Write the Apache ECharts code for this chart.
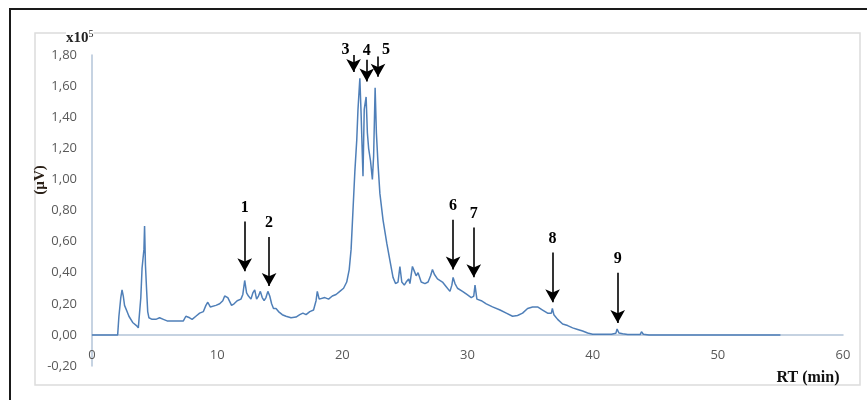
<!DOCTYPE html>
<html>
<head>
<meta charset="utf-8">
<script src="https://cdn.jsdelivr.net/npm/echarts@6/dist/echarts.min.js"></script>
<style>html,body{margin:0;padding:0;background:#fff}#c{width:867px;height:400px}</style>
</head>
<body>
<div id="c"></div>
<script>
// Retention time (min)
const rt = [0,2.05,2.15,2.3,2.4,2.5,2.6,2.7,2.8,2.95,3.1,3.25,3.4,3.55,3.7,3.8,3.9,4.0,4.07,4.15,4.2,4.27,4.35,4.45,4.55,4.8,5.1,5.4,5.7,6.0,6.5,7.0,7.3,7.5,7.65,7.8,8.0,8.3,8.6,8.9,9.1,9.25,9.45,9.6,9.9,10.2,10.45,10.6,10.85,11.0,11.15,11.35,11.6,11.9,12.05,12.2,12.35,12.5,12.7,12.85,13.0,13.15,13.3,13.45,13.6,13.75,13.9,14.05,14.2,14.35,14.5,14.7,14.9,15.2,15.5,15.9,16.3,16.6,16.85,17.1,17.4,17.7,17.9,18.0,18.15,18.3,18.6,18.9,19.2,19.5,19.8,20.1,20.35,20.55,20.7,20.85,21.0,21.15,21.25,21.4,21.5,21.6,21.65,21.75,21.9,22.0,22.1,22.25,22.4,22.5,22.62,22.72,22.85,23.0,23.25,23.55,23.8,24.05,24.25,24.45,24.6,24.75,24.95,25.1,25.3,25.4,25.6,25.75,25.9,26.05,26.3,26.6,26.85,27.05,27.2,27.35,27.6,28.0,28.3,28.6,28.75,28.85,29.0,29.2,29.6,29.95,30.3,30.5,30.6,30.75,31.1,31.5,32.0,32.6,33.1,33.6,34.0,34.4,34.8,35.2,35.6,36.0,36.4,36.7,36.78,36.9,37.2,37.6,38.0,38.4,38.8,39.2,39.6,40.0,41.5,41.85,41.95,42.1,42.4,42.8,43.8,43.9,44.05,44.5,55];
// Signal (x10^5 µV)
const signal = [0,0,0.12,0.24,0.29,0.25,0.19,0.2,0.15,0.12,0.11,0.08,0.09,0.06,0.045,0.04,0.24,0.43,0.44,0.55,0.70,0.45,0.31,0.15,0.11,0.10,0.10,0.11,0.10,0.09,0.09,0.09,0.09,0.12,0.13,0.11,0.10,0.12,0.14,0.15,0.19,0.21,0.18,0.17,0.19,0.2,0.22,0.25,0.24,0.25,0.19,0.2,0.22,0.23,0.26,0.35,0.27,0.25,0.23,0.27,0.29,0.23,0.25,0.28,0.24,0.22,0.24,0.28,0.25,0.2,0.17,0.17,0.15,0.13,0.12,0.11,0.115,0.13,0.14,0.13,0.15,0.16,0.22,0.28,0.23,0.22,0.24,0.23,0.25,0.26,0.28,0.30,0.34,0.42,0.55,0.80,1.05,1.25,1.45,1.65,1.42,1.15,1.02,1.45,1.53,1.3,1.2,1.12,1.0,1.15,1.59,1.3,1.1,0.91,0.74,0.59,0.48,0.37,0.33,0.34,0.44,0.34,0.32,0.34,0.36,0.33,0.44,0.41,0.38,0.40,0.34,0.33,0.34,0.38,0.42,0.39,0.36,0.34,0.31,0.28,0.32,0.37,0.33,0.30,0.28,0.26,0.24,0.25,0.32,0.23,0.22,0.20,0.18,0.16,0.14,0.12,0.125,0.14,0.17,0.18,0.18,0.16,0.14,0.14,0.17,0.13,0.10,0.07,0.06,0.045,0.035,0.025,0.012,0.004,0.004,0.01,0.038,0.012,0.008,0.003,0.003,0.02,0.004,0,0];

// Peak annotations: label, RT, arrow top, arrow tip
const peakLabels = ['1','2','3','4','5','6','7','8','9'];
const peakRT     = [12.2,14.15,20.9,21.95,22.85,28.85,30.5,36.8,42.0];
const arrowTop   = [0.73,0.63,1.80,1.77,1.79,0.74,0.69,0.53,0.40];
const arrowTip   = [0.41,0.315,1.69,1.63,1.66,0.42,0.37,0.21,0.077];

const xTicks = [0,10,20,30,40,50,60];
const yTicks = [-0.2,0,0.2,0.4,0.6,0.8,1.0,1.2,1.4,1.6,1.8];

const labelOffsets = {'3':[-8,9],'4':[0,5],'5':[8,7]};

const chart = echarts.init(document.getElementById('c'), null, {renderer:'canvas'});
const series = rt.map((t,i)=>[t, signal[i]]);
const markData = peakLabels.map((lab,i)=>[
  {coord:[peakRT[i], arrowTop[i]], name: lab,
   label:{offset: labelOffsets[lab] || [0,0]}},
  {coord:[peakRT[i], arrowTip[i]]}
]);

chart.setOption({
  animation:false,
  backgroundColor:'#fff',
  grid:{left:92, right:24, top:55, bottom:34, containLabel:false},
  xAxis:{
    type:'value', min:xTicks[0], max:xTicks[xTicks.length-1], interval:10,
    axisLine:{show:true, onZero:true, lineStyle:{color:'#b3c4d8', width:1.5}},
    axisTick:{show:false},
    splitLine:{show:false},
    axisLabel:{margin:-17, color:'#595959', fontSize:13, fontFamily:'Open Sans'}
  },
  yAxis:{
    type:'value', min:yTicks[0], max:yTicks[yTicks.length-1], interval:0.2,
    axisLine:{show:true, onZero:false, lineStyle:{color:'#b3c4d8', width:1.5}},
    axisTick:{show:false},
    splitLine:{show:false},
    axisLabel:{margin:15, color:'#595959', fontSize:13, fontFamily:'Open Sans',
      formatter:v=>v.toFixed(2).replace('.',',')}
  },
  series:[{
    type:'line', data:series, showSymbol:false, symbol:'none', clip:false,
    lineStyle:{color:'#4f7fb8', width:1.5},
    markLine:{
      silent:true, animation:false,
      symbol:['none','arrow'], symbolSize:[11,13],
      lineStyle:{color:'#000', width:1.6, type:'solid'},
      label:{show:true, position:'start', distance:6, formatter:'{b}',
        color:'#000', fontSize:16, fontWeight:'bold', fontFamily:'Liberation Serif'},
      data:markData
    }
  }],
  graphic:[
    {type:'rect', z:-10, shape:{x:35,y:33,width:825,height:352},
      style:{fill:'none', stroke:'#dcdcdc', lineWidth:1.5}},
    {type:'rect', z:-10, shape:{x:10,y:9,width:880,height:420},
      style:{fill:'none', stroke:'#1a1a1a', lineWidth:2}},
    {type:'text', left:66, top:29, z:10,
      style:{text:'{a|x10}{s|5}', backgroundColor:'#fff',
        rich:{a:{fontSize:15, fontWeight:'bold', fontFamily:'Liberation Serif', fill:'#222'},
              s:{fontSize:10, fontFamily:'Liberation Serif', fill:'#222', verticalAlign:'top', padding:[0,0,8,0]}}}},
    {type:'text', x:40, y:180, rotation:Math.PI/2, z:10,
      style:{text:'(µV)', fontSize:15, fontWeight:'bold', fontFamily:'Liberation Serif',
        fill:'#2b2118', align:'center', verticalAlign:'middle'}},
    {type:'text', x:808, y:378, z:10,
      style:{text:'RT (min)', fontSize:16, fontWeight:'bold', fontFamily:'Liberation Serif',
        fill:'#111', align:'center', verticalAlign:'middle'}}
  ]
});
</script>
</body>
</html>
